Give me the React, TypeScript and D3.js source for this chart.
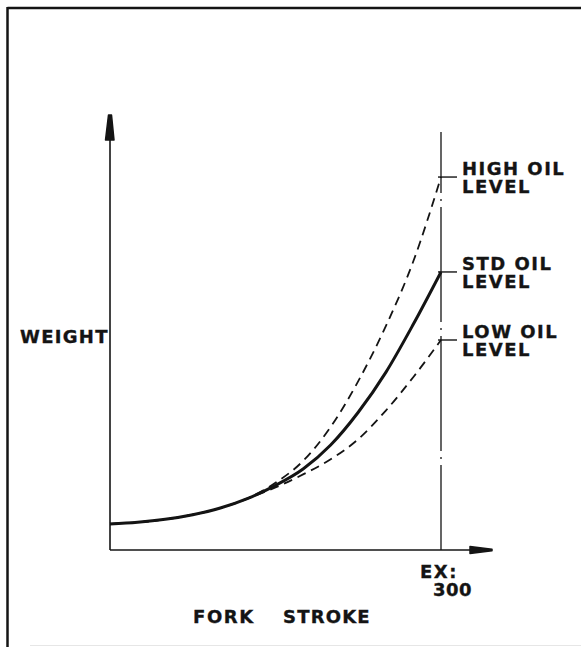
import React from "react";
import * as d3 from "d3";

const strokeMm = [0, 25, 50, 75, 100, 125, 150, 175, 200, 225, 250, 275, 300];
const stdWeight = [6.2, 6.6, 7.3, 8.4, 10.0, 12.3, 15.4, 19.3, 25.0, 32.8, 42.3, 53.8, 66.2];
const highWeight = [6.2, 6.6, 7.3, 8.4, 10.0, 12.3, 16.0, 21.2, 29.3, 40.2, 53.3, 68.8, 88.8];
const lowWeight = [6.2, 6.6, 7.3, 8.4, 10.0, 12.3, 14.9, 18.0, 21.6, 26.4, 33.2, 41.2, 50.0];
const seriesNames = ["HIGH OIL", "STD OIL", "LOW OIL"];
const seriesSub = ["LEVEL", "LEVEL", "LEVEL"];
const yTitle = "WEIGHT";
const xTitle = ["FORK", "STROKE"];
const exTick = ["EX:", "300"];
const exStroke = 300;

const W = 581;
const H = 647;
const INK = "#141414";

export default function App() {
  const x = d3.scaleLinear().domain([0, 300]).range([110, 441]);
  const y = d3.scaleLinear().domain([0, 100]).range([550, 130]);
  const line = d3
    .line<[number, number]>()
    .x((d) => x(d[0]))
    .y((d) => y(d[1]))
    .curve(d3.curveMonotoneX);

  const series = [highWeight, stdWeight, lowWeight];
  const styles = [
    { w: 1.8, dash: "9,6" },
    { w: 3, dash: "none" },
    { w: 1.8, dash: "9,6" },
  ];

  const x0 = x(0);
  const y0 = y(0);
  const xEnd = x(exStroke);
  const font = "'DejaVu Sans', sans-serif";
  const txt = {
    fontFamily: font,
    fontWeight: "bold" as const,
    fontSize: 18,
    fill: INK,
    stroke: INK,
    strokeWidth: 0.35,
  };

  return (
    <svg
      width={W}
      height={H}
      style={{ position: "absolute", left: 0, top: 0, background: "#fff" }}
    >
      {/* frame */}
      <line x1={7.5} y1={8} x2={W} y2={8} stroke={INK} strokeWidth={2.5} />
      <line x1={7.5} y1={7} x2={7.5} y2={H} stroke={INK} strokeWidth={2.5} />
      <line x1={30} y1={645.5} x2={W} y2={645.5} stroke="#e6e6e6" strokeWidth={1} />

      {/* y axis */}
      <line x1={x0} y1={y0} x2={x0} y2={128} stroke={INK} strokeWidth={1.6} />
      <path
        d={`M${x0 - 1.5},115 L${x0 + 1.5},115 L${x0 + 4},140 L${x0 - 4.5},140 Z`}
        fill={INK}
        stroke={INK}
        strokeWidth={1.5}
        strokeLinejoin="round"
      />
      {/* x axis */}
      <line x1={x0} y1={y0} x2={480} y2={y0} stroke={INK} strokeWidth={1.6} />
      <path
        d={`M470,${y0 - 3.5} L492,${y0 - 0.8} L492,${y0 + 0.8} L470,${y0 + 3.5} Z`}
        fill={INK}
        stroke={INK}
        strokeWidth={1.5}
        strokeLinejoin="round"
      />

      {/* dash-dot stroke limit line */}
      <line
        x1={xEnd}
        y1={y0}
        x2={xEnd}
        y2={132}
        stroke={INK}
        strokeWidth={1.3}
        strokeDasharray="115,6,2,6"
        strokeDashoffset={30}
      />

      {/* curves */}
      {series.map((vals, i) => {
        const pts = strokeMm.map((s, j) => [s, vals[j]] as [number, number]);
        return (
          <path
            key={i}
            d={line(pts) || ""}
            fill="none"
            stroke={INK}
            strokeWidth={styles[i].w}
            strokeDasharray={styles[i].dash}
          />
        );
      })}

      {/* leaders and labels */}
      {series.map((vals, i) => {
        const ye = y(vals[vals.length - 1]);
        return (
          <g key={"l" + i}>
            <line x1={xEnd - 3} y1={ye} x2={xEnd + 16} y2={ye} stroke={INK} strokeWidth={1.4} />
            <text x={xEnd + 21} y={ye - 2} letterSpacing={1.5} {...txt}>
              <tspan x={xEnd + 21}>{seriesNames[i]}</tspan>
              <tspan x={xEnd + 21} dy={18}>
                {seriesSub[i]}
              </tspan>
            </text>
          </g>
        );
      })}

      {/* axis titles */}
      <text x={20} y={343} letterSpacing={1.3} {...txt}>
        {yTitle}
      </text>
      <text x={193} y={623} letterSpacing={1.6} {...txt}>
        {xTitle[0]}
      </text>
      <text x={283} y={623} letterSpacing={1.2} {...txt}>
        {xTitle[1]}
      </text>
      <text x={xEnd - 21} y={578} letterSpacing={1.5} {...txt}>
        <tspan x={xEnd - 21}>{exTick[0]}</tspan>
        <tspan x={xEnd - 8} dy={18} letterSpacing={0.5}>
          {exTick[1]}
        </tspan>
      </text>
    </svg>
  );
}
